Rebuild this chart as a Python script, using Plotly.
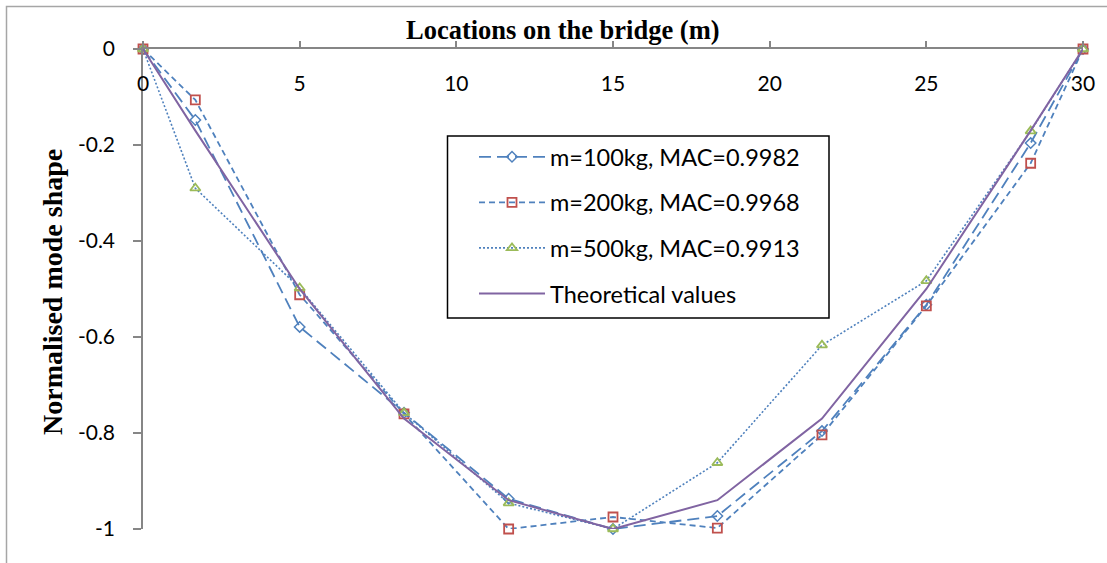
import plotly.graph_objects as go

# ---- data ----
locations = [0, 1.67, 5, 8.33, 11.67, 15, 18.33, 21.67, 25, 28.33, 30]
m100 = [0, -0.148, -0.579, -0.758, -0.937, -1.0, -0.973, -0.796, -0.533, -0.196, 0]
m200 = [0, -0.106, -0.512, -0.760, -1.0, -0.975, -0.998, -0.804, -0.535, -0.238, 0]
m500 = [0, -0.290, -0.498, -0.758, -0.946, -1.0, -0.862, -0.617, -0.483, -0.171, 0]
theory = [0, -0.17, -0.50, -0.77, -0.94, -1.0, -0.94, -0.77, -0.50, -0.17, 0]

names = ["m=100kg, MAC=0.9982", "m=200kg, MAC=0.9968", "m=500kg, MAC=0.9913", "Theoretical values"]
x_ticks = [0, 5, 10, 15, 20, 25, 30]
y_ticks = [0, -0.2, -0.4, -0.6, -0.8, -1]
y_ticktext = ["0", "-0.2", "-0.4", "-0.6", "-0.8", "-1"]

BLUE = "#4F81BD"
RED = "#C0504D"
GREEN = "#9BBB59"
PURPLE = "#8064A2"
TICKFONT = dict(family="Lato, Open Sans, sans-serif", size=21, color="black")

fig = go.Figure()
fig.add_trace(go.Scatter(
    x=locations, y=m100, name=names[0], mode="lines+markers", legendgroup="a",
    line=dict(color=BLUE, width=1.8, dash="12px,6px"),
    marker=dict(symbol="diamond-open", size=8, color=BLUE, line=dict(width=1.5, color=BLUE)),
    cliponaxis=False))
fig.add_trace(go.Scatter(
    x=locations, y=m200, name=names[1], mode="lines+markers", legendgroup="b",
    line=dict(color=BLUE, width=1.8, dash="6px,4px"),
    marker=dict(symbol="square-open", size=9, color=RED, line=dict(width=1.8, color=RED)),
    cliponaxis=False))
fig.add_trace(go.Scatter(
    x=locations, y=m500, name=names[2], mode="lines+markers", legendgroup="c",
    line=dict(color=BLUE, width=1.6, dash="2px,2px"),
    marker=dict(symbol="triangle-up-open", size=9, color=GREEN, line=dict(width=1.8, color=GREEN)),
    cliponaxis=False))
fig.add_trace(go.Scatter(
    x=locations, y=theory, name=names[3], mode="lines", legendgroup="d",
    xaxis="x2",
    line=dict(color=PURPLE, width=2), cliponaxis=False))

L, R, T, B = 143, 24, 49, 34
W, H = 1107, 563
pw, ph = W - L - R, H - T - B

def px_x(p):
    return (p - L) / pw

def px_y(p):
    return (H - B - p) / ph

fig.update_layout(
    width=W, height=H,
    margin=dict(l=L, r=R, t=T, b=B),
    paper_bgcolor="white", plot_bgcolor="white",
    showlegend=True,
    legend=dict(
        x=px_x(474), y=px_y(135), xanchor="left", yanchor="top",
        font=dict(family="Lato, Open Sans, sans-serif", size=23.5, color="black"),
        bgcolor="rgba(0,0,0,0)", borderwidth=0,
        itemwidth=66, traceorder="grouped", tracegroupgap=12,
    ),
    xaxis=dict(
        range=[0, 30], side="top", tickmode="array", tickvals=x_ticks,
        ticks="outside", ticklen=6, tickcolor="#868686", tickwidth=1.5,
        showticklabels=False,
        showline=True, linecolor="#868686", linewidth=1.5,
        showgrid=False, zeroline=False,
    ),
    xaxis2=dict(
        range=[0, 30], matches="x", overlaying="x", side="top",
        anchor="free", position=px_y(95),
        tickmode="array", tickvals=x_ticks, ticks="",
        showline=False, showgrid=False, zeroline=False,
        tickfont=TICKFONT,
    ),
    yaxis=dict(
        range=[-1, 0], tickmode="array", tickvals=y_ticks, ticktext=y_ticktext,
        ticks="outside", ticklen=8, tickcolor="#868686", tickwidth=1.5,
        ticklabelstandoff=14,
        showline=True, linecolor="#868686", linewidth=1.5,
        showgrid=False, zeroline=False,
        tickfont=TICKFONT,
    ),
    shapes=[
        dict(type="rect", xref="paper", yref="paper",
             x0=px_x(6.5), x1=px_x(1115), y0=px_y(570), y1=px_y(6.5),
             line=dict(color="#A6A6A6", width=1.5), fillcolor="rgba(0,0,0,0)", layer="below"),
        dict(type="rect", xref="paper", yref="paper",
             x0=px_x(447.5), x1=px_x(829), y0=px_y(318), y1=px_y(136),
             line=dict(color="black", width=1.5), fillcolor="white", layer="below"),
    ],
    annotations=[
        dict(text="<b>Locations on the bridge (m)</b>", xref="paper", yref="paper",
             x=px_x(563), y=px_y(30), xanchor="center", yanchor="middle", showarrow=False,
             font=dict(family="Liberation Serif, Times New Roman, serif", size=26.5, color="black")),
        dict(text="<b>Normalised mode shape</b>", xref="paper", yref="paper",
             x=px_x(52), y=px_y(292), xanchor="center", yanchor="middle", showarrow=False,
             textangle=-90,
             font=dict(family="Liberation Serif, Times New Roman, serif", size=28, color="black")),
    ],
)

fig.write_html("out.html")
